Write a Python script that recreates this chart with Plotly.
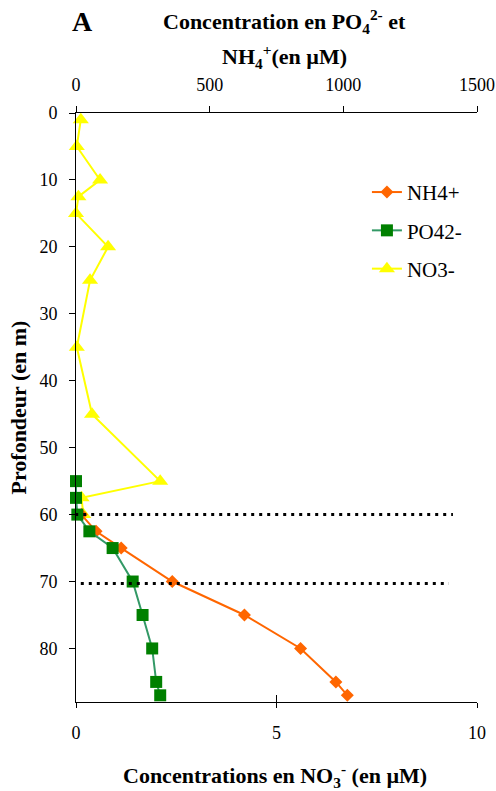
import plotly.graph_objects as go

# ---- data ----
nh4_depth = [60, 62.5, 65, 70, 75, 80, 85, 87]
nh4_conc = [20, 75, 169, 360, 630, 840, 972, 1015]

po4_depth = [55, 57.5, 60, 62.5, 65, 70, 75, 80, 85, 87]
po4_conc = [0, 0, 5, 50, 137, 212, 249, 285, 300, 315]

no3_depth = [1, 5, 10, 12.5, 15, 20, 25, 35, 45, 55, 57.5, 60]
no3_conc = [0.12, 0.02, 0.6, 0.06, 0.0, 0.8, 0.35, 0.02, 0.4, 2.1, 0.14, 0.18]

top_ticks = [0, 500, 1000, 1500]
bottom_ticks = [0, 5, 10]
depth_ticks = [0, 10, 20, 30, 40, 50, 60, 70, 80]

ref_depths = [60, 70.3]          # dotted horizontal lines
ref_x_start = [-0.02, -0.08]
ref_x_end = [9.4, 9.3]

FONT = "Liberation Serif, Times New Roman, DejaVu Serif, serif"

fig = go.Figure()
fig.add_trace(go.Scatter(
    x=nh4_conc, y=nh4_depth, xaxis="x2", yaxis="y", name="NH4+",
    mode="lines+markers", legendgroup="a",
    line=dict(color="#FF6600", width=2),
    marker=dict(symbol="diamond", size=10, color="#FF6600"),
    cliponaxis=False))
fig.add_trace(go.Scatter(
    x=po4_conc, y=po4_depth, xaxis="x2", yaxis="y", name="PO42-",
    mode="lines+markers", legendgroup="b",
    line=dict(color="#339966", width=2),
    marker=dict(symbol="square", size=12, color="#008000"),
    cliponaxis=False))
fig.add_trace(go.Scatter(
    x=no3_conc, y=no3_depth, xaxis="x", yaxis="y", name="NO3-",
    mode="lines+markers", legendgroup="c",
    line=dict(color="#FFFF00", width=2),
    marker=dict(symbol="triangle-up", size=14, color="#FFFF00"),
    cliponaxis=False))

for d, xs, xe in zip(ref_depths, ref_x_start, ref_x_end):
    fig.add_shape(type="line", xref="x", yref="y", x0=xs, x1=xe, y0=d, y1=d,
                  line=dict(color="black", width=3, dash="3px,5px"))

tickfont = dict(family=FONT, size=18, color="black")
fig.update_layout(
    width=496, height=791,
    margin=dict(l=76, r=19, t=113, b=89, autoexpand=False),
    paper_bgcolor="white", plot_bgcolor="white",
    showlegend=True,
    legend=dict(x=0.7255, y=0.9, xanchor="left", yanchor="top",
                font=dict(family=FONT, size=21, color="black"),
                bgcolor="rgba(0,0,0,0)", tracegroupgap=8, traceorder="grouped"),
    xaxis=dict(range=[0, 10], tickvals=bottom_ticks, ticks="outside", ticklen=5,
               tickcolor="black", showline=True, linecolor="black", linewidth=1,
               showgrid=False, zeroline=False, tickfont=tickfont, automargin=False,
               ticklabelstandoff=9, anchor="y", side="bottom"),
    xaxis2=dict(range=[0, 1500], tickvals=top_ticks, ticks="outside", ticklen=6,
                tickcolor="black", showline=True, linecolor="black", linewidth=1,
                showgrid=False, zeroline=False, tickfont=tickfont, automargin=False,
                overlaying="x", side="top", anchor="y", ticklabelstandoff=8),
    xaxis3=dict(range=[0, 10], tickvals=bottom_ticks, ticks="inside", ticklen=7,
                tickcolor="black", showticklabels=False, showgrid=False,
                automargin=False,
                zeroline=False, overlaying="x", side="bottom", anchor="y"),
    yaxis=dict(range=[88, 0], tickvals=depth_ticks, ticks="outside", ticklen=6,
               tickcolor="black", showline=True, linecolor="black", linewidth=1,
               showgrid=False, zeroline=False, tickfont=tickfont, automargin=False,
               ticklabelstandoff=8),
    font=dict(family=FONT, color="black"),
)
# dummy trace to activate xaxis3
fig.add_trace(go.Scatter(x=[None], y=[None], xaxis="x3", yaxis="y",
                         showlegend=False, hoverinfo="skip"))

title_font = dict(family=FONT, size=22, color="black")
fig.add_annotation(text="<b>A</b>", xref="paper", yref="paper",
                   x=0.015, y=1 + (113 - 22) / 589, showarrow=False,
                   xanchor="center", yanchor="middle",
                   font=dict(family=FONT, size=28, color="black"))
fig.add_annotation(text="<b>Concentration en PO<sub>4</sub><sup>2-</sup> et</b>",
                   xref="paper", yref="paper", x=0.519, y=1 + (113 - 22) / 589,
                   showarrow=False, xanchor="center", yanchor="middle", font=title_font)
fig.add_annotation(text="<b>NH<sub>4</sub><sup>+</sup>(en µM)</b>",
                   xref="paper", yref="paper", x=0.519, y=1 + (113 - 57) / 589,
                   showarrow=False, xanchor="center", yanchor="middle", font=title_font)
fig.add_annotation(text="<b>Concentrations en NO<sub>3</sub><sup>-</sup> (en µM)</b>",
                   xref="paper", yref="paper", x=0.496, y=-(775 - 702) / 589,
                   showarrow=False, xanchor="center", yanchor="middle", font=title_font)
fig.add_annotation(text="<b>Profondeur (en m)</b>", xref="paper", yref="paper",
                   x=(18 - 76) / 401, y=0.5, textangle=-90, showarrow=False,
                   xanchor="center", yanchor="middle", font=title_font)

fig.write_html("out.html",
               config={"displayModeBar": False},
               post_script="document.body.style.margin='0';document.body.style.overflow='hidden';")
